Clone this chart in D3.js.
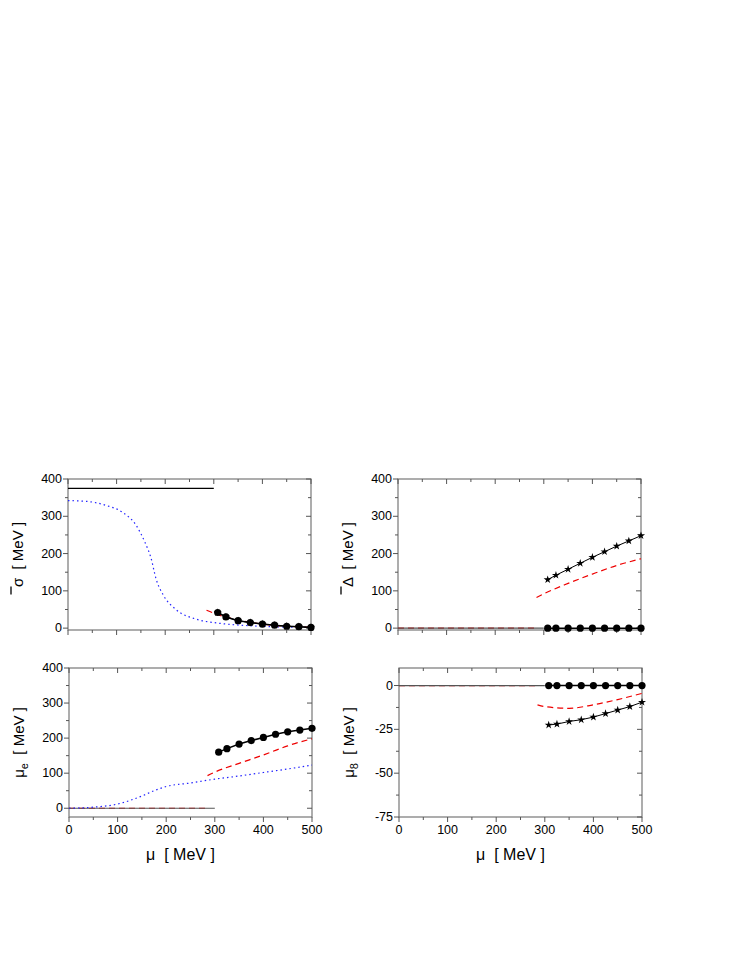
<!DOCTYPE html>
<html>
<head>
<meta charset="utf-8">
<script src="https://cdn.jsdelivr.net/npm/d3@7"></script>
<style>
  body { margin: 0; background: #fff; }
  text { font-family: "Liberation Sans", Arial, sans-serif; white-space: pre; }
</style>
</head>
<body>
<div id="chart"></div>
<script>
// ---- data ----
const muMarks = [308, 325, 350, 375, 400, 425, 450, 475, 500];

// sigma panel
const sigmaFlat = [[0, 375], [300, 375]];
const sigmaBlue = [[0, 342], [38, 340], [79, 329], [113, 310], [140, 276], [158, 231], [171, 187], [181, 133], [196, 89], [223, 49], [264, 24], [312, 13], [381, 6], [440, 3], [500, 2]];
const sigmaRed = [[285, 48], [300, 40], [350, 22], [400, 11], [450, 5], [500, 2]];
const sigmaMarks = [42, 30, 20, 15, 11, 8, 5, 4, 2];

// Delta panel
const deltaStars = [130, 142, 158, 174, 190, 205, 220, 234, 248];
const deltaCircles = [0, 0, 0, 0, 0, 0, 0, 0, 0];
const deltaRed = [[285, 82], [300, 92], [350, 120], [400, 145], [450, 168], [500, 186]];

// mu_e panel
const mueCircles = [160, 170, 183, 193, 202, 211, 218, 223, 228];
const mueRed = [[285, 93], [300, 103], [350, 128], [400, 152], [425, 165], [450, 178], [500, 198]];
const mueBlue = [[0, 0], [50, 3], [100, 12], [150, 35], [175, 50], [200, 62], [250, 72], [300, 83], [350, 92], [400, 102], [450, 112], [500, 123]];

// mu_8 panel
const mu8Stars = [-22.5, -22, -20.5, -19.5, -18, -16, -14, -12, -9.5];
const mu8Circles = [0, 0, 0, 0, 0, 0, 0, 0, 0];
const mu8Red = [[285, -11], [300, -12], [350, -13], [400, -11], [450, -8], [500, -4.5]];

const zeroBlack = [[0, 0], [300, 0]];
const zeroRed = [[0, 0], [282, 0]];

const width = 747, height = 967;
const svg = d3.select("#chart").append("svg").attr("width", width).attr("height", height);

function panel(o) {
  const x = d3.scaleLinear().domain([0, 500]).range([o.x0, o.x1]);
  const y = d3.scaleLinear().domain(o.yDomain).range([o.y1, o.y0]);
  const g = svg.append("g");
  const line = d3.line().x(d => x(d[0])).y(d => y(d[1]));

  // frame
  g.append("rect").attr("x", o.x0).attr("y", o.y0).attr("width", o.x1 - o.x0).attr("height", o.y1 - o.y0)
    .attr("fill", "none").attr("stroke", "#777").attr("stroke-width", 1.2);

  // ticks
  const yAll = d3.range(o.yTicks[0], o.yTicks[o.yTicks.length - 1] + 0.01, o.yStep / 2);
  yAll.forEach(v => {
    if (v < o.yDomain[0] || v > o.yDomain[1]) return;
    const major = o.yTicks.includes(v);
    const len = major ? 5 : 3;
    g.append("line").attr("x1", o.x0 - len).attr("x2", o.x0).attr("y1", y(v)).attr("y2", y(v)).attr("stroke", "#555");
    g.append("line").attr("x1", o.x1).attr("x2", o.x1 - len).attr("y1", y(v)).attr("y2", y(v)).attr("stroke", "#555");
    if (major) g.append("text").attr("x", o.x0 - 6).attr("y", y(v) + 4).attr("text-anchor", "end")
      .attr("font-size", 12.5).text(v);
  });
  d3.range(0, 501, 50).forEach(v => {
    const major = v % 100 === 0;
    const len = major ? 5 : 3;
    g.append("line").attr("x1", x(v)).attr("x2", x(v)).attr("y1", o.y1).attr("y2", o.y1 + len).attr("stroke", "#555");
    g.append("line").attr("x1", x(v)).attr("x2", x(v)).attr("y1", o.y0).attr("y2", o.y0 + len).attr("stroke", "#555");
    if (major && o.xLabels) g.append("text").attr("x", x(v)).attr("y", o.y1 + 17).attr("text-anchor", "middle")
      .attr("font-size", 12.5).text(v);
  });
  if (o.xLabels) {
    g.append("text").attr("x", (o.x0 + o.x1) / 2 - 10).attr("y", o.y1 + 43).attr("text-anchor", "middle")
      .attr("font-size", 16).text("μ  [ MeV ]");
  }
  // y label
  const yl = g.append("text").attr("transform", `translate(${o.x0 - 45},${(o.y0 + o.y1) / 2}) rotate(-90)`)
    .attr("text-anchor", "middle").attr("font-size", 15);
  yl.append("tspan").text(o.yLabel[0]);
  if (o.yLabel[1]) yl.append("tspan").attr("font-size", 11).attr("dy", 4).text(o.yLabel[1]);
  yl.append("tspan").attr("dy", o.yLabel[1] ? -4 : 0).text("  [ MeV ]");
  if (o.bar) {
    g.append("line").attr("x1", o.x0 - 57).attr("x2", o.x0 - 57)
      .attr("y1", (o.y0 + o.y1) / 2 + 32).attr("y2", (o.y0 + o.y1) / 2 + 40).attr("stroke", "#000").attr("stroke-width", 1.3);
  }

  const draw = {
    solid: (d, c) => g.append("path").datum(d).attr("d", line.curve(d3.curveLinear)).attr("fill", "none").attr("stroke", c || "#000").attr("stroke-width", 1.2),
    red: d => g.append("path").datum(d).attr("d", line.curve(d3.curveMonotoneX)).attr("fill", "none")
      .attr("stroke", "#e00").attr("stroke-width", 1.2).attr("stroke-dasharray", "6,4"),
    blue: d => g.append("path").datum(d).attr("d", line.curve(d3.curveMonotoneX)).attr("fill", "none")
      .attr("stroke", "#22f").attr("stroke-width", 1.2).attr("stroke-dasharray", "1.5,3"),
    circles: vals => {
      const pts = muMarks.map((m, i) => [m, vals[i]]);
      g.append("path").datum(pts).attr("d", line.curve(d3.curveLinear)).attr("fill", "none").attr("stroke", "#000").attr("stroke-width", 1.5);
      g.selectAll(null).data(pts).join("circle").attr("cx", d => x(d[0])).attr("cy", d => y(d[1])).attr("r", 3.6).attr("fill", "#000");
    },
    stars: vals => {
      const pts = muMarks.map((m, i) => [m, vals[i]]);
      g.append("path").datum(pts).attr("d", line.curve(d3.curveLinear)).attr("fill", "none").attr("stroke", "#000").attr("stroke-width", 1);
      g.selectAll(null).data(pts).join("path").attr("d", d3.symbol(d3.symbolStar, 20))
        .attr("transform", d => `translate(${x(d[0])},${y(d[1])})`).attr("fill", "#000");
    }
  };
  o.draw(draw);
}

panel({
  x0: 68, x1: 311, y0: 479, y1: 630, yDomain: [-5, 400], yTicks: [0, 100, 200, 300, 400], yStep: 100,
  yLabel: ["σ"], bar: true, xLabels: false,
  draw: d => { d.solid(sigmaFlat); d.blue(sigmaBlue); d.red(sigmaRed); d.stars(sigmaMarks); d.circles(sigmaMarks); }
});
panel({
  x0: 398, x1: 641, y0: 479, y1: 630, yDomain: [-5, 400], yTicks: [0, 100, 200, 300, 400], yStep: 100,
  yLabel: ["Δ"], bar: true, xLabels: false,
  draw: d => { d.red(zeroRed); d.solid(zeroBlack, "#555"); d.red(deltaRed); d.stars(deltaStars); d.circles(deltaCircles); }
});
panel({
  x0: 69, x1: 312, y0: 668, y1: 817, yDomain: [-25, 400], yTicks: [0, 100, 200, 300, 400], yStep: 100,
  yLabel: ["μ", "e"], xLabels: true,
  draw: d => { d.red(zeroRed); d.solid(zeroBlack, "#555"); d.blue(mueBlue); d.red(mueRed); d.circles(mueCircles); }
});
panel({
  x0: 399, x1: 642, y0: 668, y1: 817, yDomain: [-75, 10], yTicks: [-75, -50, -25, 0], yStep: 25,
  yLabel: ["μ", "8"], xLabels: true,
  draw: d => { d.red(zeroRed); d.solid(zeroBlack, "#555"); d.red(mu8Red); d.circles(mu8Circles); d.stars(mu8Stars); }
});
</script>
</body>
</html>
